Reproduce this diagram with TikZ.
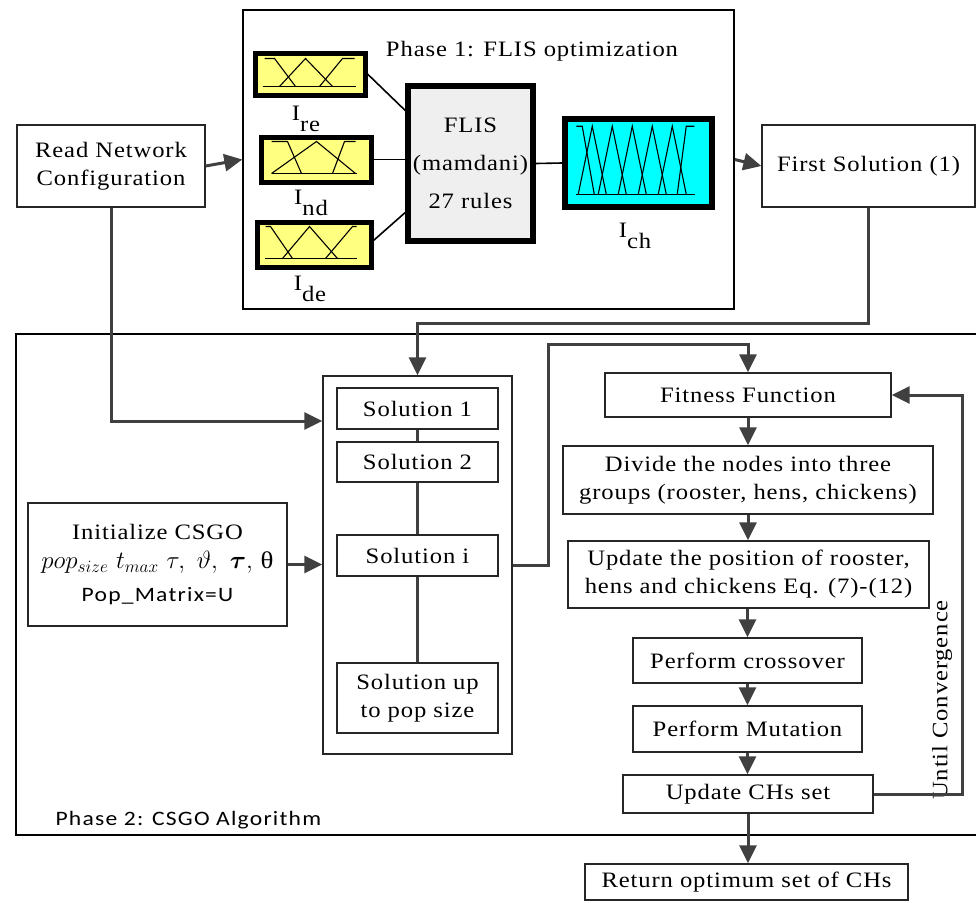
\documentclass[tikz,border=0pt]{standalone}
\usepackage{amsmath}
\usepackage{fontspec}
\setmainfont{Liberation Serif}[FakeStretch=1.12,LetterSpace=4]
\setsansfont{Carlito}[FakeStretch=1.15,LetterSpace=6]
\usetikzlibrary{arrows.meta}
\definecolor{arrc}{HTML}{404040}
\definecolor{fyel}{HTML}{FFFF80}
\definecolor{fcyan}{HTML}{00FFFF}
\definecolor{fgray}{HTML}{EFEFEF}
\newcommand\lsub[1]{\raisebox{-11pt}{#1}}
\tikzset{
  box/.style={draw=black!85, line width=1.3pt, fill=white, inner sep=0pt, align=center},
  fz/.style={draw=black, line width=5pt, inner sep=0pt},
  mf/.style={draw=black, line width=1.1pt},
  arr/.style={draw=arrc, line width=3pt, -{Triangle[length=18pt,width=17pt]}},
  ln/.style={draw=arrc, line width=2.8pt},
  conn/.style={draw=black, line width=1.6pt},
  frame/.style={draw=black, line width=1.4pt},
}
\begin{document}
\begin{tikzpicture}[x=1pt,y=-1pt,font=\fontsize{22}{28}\selectfont]
\useasboundingbox (0,0) rectangle (976,902);
% Phase 2 frame
\draw[frame] (976,334) -- (16,334) -- (16,835) -- (976,835);
\node[anchor=base west,font=\fontsize{20.5}{24}\sffamily] (t2) at (52,825) {Phase 2: CSGO Algorithm};
% Phase 1 frame
\node[frame, minimum width=491pt, minimum height=299pt, inner sep=0pt] (p1) at (488.5,159.5) {};
\node[anchor=base] (t1) at (532,56) {Phase 1: FLIS optimization};
% top boxes
\node[box, minimum width=188pt, minimum height=82pt] (read) at (111,166) {Read Network\\Configuration};
\node[box, minimum width=213pt, minimum height=82pt] (first) at (868.5,166) {First Solution (1)};
% fuzzy blocks
\node[fz, fill=fyel, minimum width=110pt, minimum height=42pt] (ire) at (310,74) {};
\node[fz, fill=fyel, minimum width=110pt, minimum height=45pt] (ind) at (316,159.5) {};
\node[fz, fill=fyel, minimum width=114pt, minimum height=45pt] (ide) at (314,244.5) {};
\node[fz, fill=fgray, line width=5.5pt, minimum width=125pt, minimum height=155pt, align=center] (flis) at (470.5,163.5) {FLIS\\[10pt](mamdani)\\[10pt]27 rules};
\node[fz, fill=fcyan, line width=5.5pt, minimum width=147pt, minimum height=88pt] (ich) at (638.5,163) {};
\begin{scope}[shift={(ire.north west)}]
  \draw[mf] (12,8)--(22,8)--(43,36);
  \draw[mf] (27,36)--(53,8)--(80,36);
  \draw[mf] (67,36)--(90,8)--(102,8);
  \draw[mf] (10,36)--(103,36);
\end{scope}
\begin{scope}[shift={(ind.north west)}]
  \draw[mf] (13,7)--(29,7)--(43,39);
  \draw[mf] (13,39)--(58,7)--(97,39);
  \draw[mf] (74,39)--(86,7)--(97,7);
  \draw[mf] (13,39)--(98,39);
\end{scope}
\begin{scope}[shift={(ide.north west)}]
  \draw[mf] (11,7)--(16,7)--(38,39);
  \draw[mf] (28,39)--(55,7)--(83,39);
  \draw[mf] (71,39)--(98,7)--(102,7);
  \draw[mf] (10,39)--(102,39);
\end{scope}
\begin{scope}[shift={(ich.north west)}]
  \draw[mf] (14,10)--(20,10)--(32,78);
  \foreach \p in {30,50,70,90,110} {\draw[mf] (\p-14,78)--(\p,10)--(\p+14,78);}
  \draw[mf] (115,78)--(124,10)--(132,10);
  \draw[mf] (14,78)--(133,78);
\end{scope}
\node[anchor=base] (lre) at (306,120) {I\lsub{re}};
\node[anchor=base] (lnd) at (311,204) {I\lsub{nd}};
\node[anchor=base] (lde) at (310,290) {I\lsub{de}};
\node[anchor=base] (lch) at (635,237) {I\lsub{ch}};
\draw[conn] (ire.east) -- ([yshift=53pt]flis.west);
\draw[conn] (ind.east) -- (flis.west |- ind.east);
\draw[conn] ([yshift=4pt]ide.east) -- ([yshift=-49pt]flis.west);
\draw[conn] (flis.east) -- (ich.west);
% solutions container
\node[box, minimum width=189pt, minimum height=378pt] (cont) at (417.5,565) {};
\node[box, minimum width=161pt, minimum height=41pt] (s1) at (417.5,408.5) {Solution 1};
\node[box, minimum width=161pt, minimum height=40pt] (s2) at (417.5,462) {Solution 2};
\node[box, minimum width=161pt, minimum height=41pt] (si) at (417.5,555.5) {Solution i};
\node[box, minimum width=161pt, minimum height=70pt] (sup) at (417.5,698) {Solution up\\to pop size};
\draw[ln] (s1.south) -- (s2.north);
\draw[ln] (s2.south) -- (si.north);
\draw[ln] (si.south) -- (sup.north);
% init
\node[box, minimum width=259pt, minimum height=123pt] (init) at (157.5,564.5)
  {Initialize CSGO\\[1pt]{\fontsize{24}{28}\selectfont$pop_{size}\ t_{max}\ \tau,\ \vartheta,\ \boldsymbol{\tau},$ θ}\\[5pt]{\sffamily\fontsize{20.5}{24}\selectfont Pop\_Matrix=U}};
% right column
\node[box, minimum width=286pt, minimum height=44pt] (fit) at (748,395) {Fitness Function};
\node[box, minimum width=370pt, minimum height=68pt] (div) at (748,480) {Divide the nodes into three\\groups (rooster, hens, chickens)};
\node[box, minimum width=361pt, minimum height=67pt] (upd) at (748.5,574.5) {Update the position of rooster,\\hens and chickens Eq. (7)-(12)};
\node[box, minimum width=229pt, minimum height=45pt] (cro) at (747.5,660.5) {Perform crossover};
\node[box, minimum width=229pt, minimum height=46pt] (mut) at (747.5,729) {Perform Mutation};
\node[box, minimum width=250pt, minimum height=38pt] (uch) at (748,794) {Update CHs set};
\node[box, minimum width=323pt, minimum height=36pt] (ret) at (746.5,882) {Return optimum set of CHs};
\node[rotate=90] (uc) at (942,700) {Until Convergence};
% connectors
\coordinate (rdin) at (0,421);
\coordinate (fsb) at (0,323);
\coordinate (bend) at (548,344);
\coordinate (lp) at (962,0);
\draw[arr] (read.east) -- (p1.west);
\draw[arr] (p1.east) -- (first.west);
\draw[arr] (first.south) |- (cont.north |- fsb) -- (cont.north);
\draw[arr] (read.south) |- (cont.west |- rdin);
\draw[arr] (init.east) -- (init.east -| cont.west);
\draw[arr] (cont.east) -| (bend) -| (fit.north);
\draw[arr] (fit.south) -- (fit.south |- div.north);
\draw[arr] (div.south) -- (div.south |- upd.north);
\draw[arr] (cro.north |- upd.south) -- (cro.north);
\draw[arr] (cro.south) -- (cro.south |- mut.north);
\draw[arr] (mut.south) -- (mut.south |- uch.north);
\draw[arr] (uch.south) -- (uch.south |- ret.north);
\draw[arr] (uch.east) -- (uch.east -| lp) -- (fit.east -| lp) -- (fit.east);
\end{tikzpicture}
\end{document}
